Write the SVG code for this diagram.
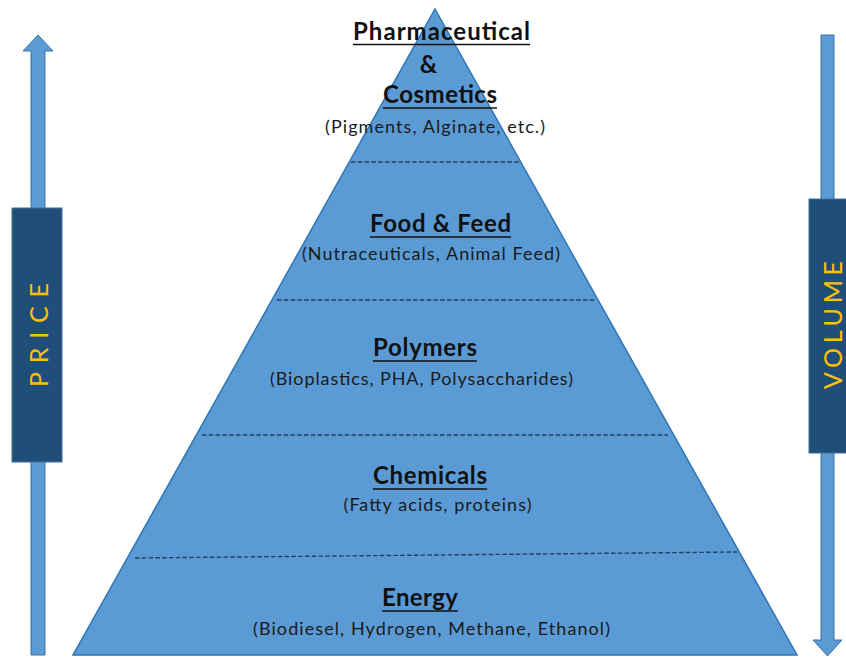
<svg xmlns="http://www.w3.org/2000/svg" width="846" height="657" viewBox="0 0 846 657">
  <style>
    .arrow { fill: #5B9BD5; stroke: #41719C; stroke-width: 1; }
    .band { fill: #1F4E79; stroke: #41719C; stroke-width: 1; }
    .axis { font-family: Lato, "Liberation Sans", sans-serif; font-size: 25px; fill: #FFC000; text-anchor: middle; dominant-baseline: central; }
    .pyramid { fill: #5B9BD5; stroke: #2E75B6; stroke-width: 1.5; }
    .divider { stroke: #253F5E; stroke-width: 1.4; stroke-dasharray: 4.5 2.3; fill: none; }
    .head { font-family: Lato, "Liberation Sans", sans-serif; font-size: 24px; font-weight: bold; fill: #111; text-anchor: middle; }
    .sub { font-family: Lato, "Liberation Sans", sans-serif; font-size: 18px; fill: #1a1a1a; text-anchor: middle; }
    .ul { stroke: #111; stroke-width: 1.6; }
  </style>

  <!-- price axis: upward arrow with label band -->
  <g id="price-axis">
    <polygon class="arrow" points="38,35 53,51 45,51 45,655 31,655 31,51 23,51"/>
    <rect class="band" x="12" y="208" width="50" height="254"/>
    <text class="axis" transform="translate(37.5,335) rotate(-90)" textLength="104">PRICE</text>
  </g>

  <!-- volume axis: downward arrow with label band -->
  <g id="volume-axis">
    <polygon class="arrow" points="821,35 834,35 834,640 842,640 827.5,656 813,640 821,640"/>
    <rect class="band" x="809" y="199" width="40" height="254"/>
    <text class="axis" transform="translate(831.5,325) rotate(-90)" textLength="128">VOLUME</text>
  </g>

  <!-- pyramid body -->
  <g id="pyramid">
    <polygon class="pyramid" points="435,9 797,655 73,655"/>
  </g>

  <!-- tier dividers -->
  <g id="dividers">
    <line class="divider" x1="351" y1="162" x2="520" y2="162"/>
    <line class="divider" x1="277" y1="300" x2="595" y2="300"/>
    <line class="divider" x1="202" y1="435" x2="668" y2="435"/>
    <line class="divider" x1="135" y1="558" x2="737" y2="552"/>
  </g>

  <g id="tier-pharma">
    <text class="head" x="441.5" y="40" textLength="177">Pharmaceutical</text>
    <line class="ul" x1="353" y1="44.5" x2="530" y2="44.5"/>
    <text class="head" x="428.5" y="73">&amp;</text>
    <text class="head" x="440" y="103" textLength="114">Cosmetics</text>
    <line class="ul" x1="383" y1="108" x2="497" y2="108"/>
    <text class="sub" x="435" y="133" textLength="220">(Pigments, Alginate, etc.)</text>
  </g>

  <g id="tier-food">
    <text class="head" x="440.5" y="232" textLength="141">Food &amp; Feed</text>
    <line class="ul" x1="370" y1="237" x2="511" y2="237"/>
    <text class="sub" x="431" y="260" textLength="258">(Nutraceuticals, Animal Feed)</text>
  </g>

  <g id="tier-polymers">
    <text class="head" x="425" y="356" textLength="104">Polymers</text>
    <line class="ul" x1="373" y1="361" x2="477" y2="361"/>
    <text class="sub" x="421.5" y="385" textLength="303">(Bioplastics, PHA, Polysaccharides)</text>
  </g>

  <g id="tier-chemicals">
    <text class="head" x="430" y="484" textLength="114">Chemicals</text>
    <line class="ul" x1="373" y1="489" x2="487" y2="489"/>
    <text class="sub" x="437.5" y="511" textLength="188">(Fatty acids, proteins)</text>
  </g>

  <g id="tier-energy">
    <text class="head" x="420" y="606" textLength="76">Energy</text>
    <line class="ul" x1="382" y1="611" x2="458" y2="611"/>
    <text class="sub" x="431.5" y="635" textLength="357">(Biodiesel, Hydrogen, Methane, Ethanol)</text>
  </g>
</svg>
